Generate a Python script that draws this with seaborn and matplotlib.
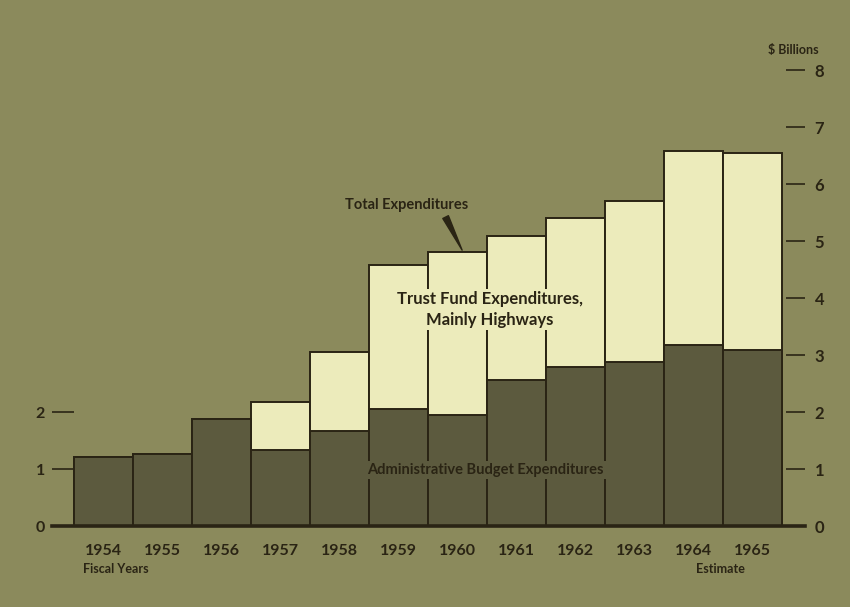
import pandas as pd
import seaborn as sns
import matplotlib.pyplot as plt

# Data ($ billions)
years = ['1954', '1955', '1956', '1957', '1958', '1959',
         '1960', '1961', '1962', '1963', '1964', '1965']
admin = [1.21, 1.26, 1.88, 1.33, 1.67, 2.06, 1.95, 2.57, 2.79, 2.88, 3.18, 3.08]
total = [1.21, 1.26, 1.88, 2.18, 3.06, 4.58, 4.81, 5.09, 5.41, 5.71, 6.58, 6.55]
right_ticks = [0, 1, 2, 3, 4, 5, 6, 7, 8]
left_ticks = [0, 1, 2]

df = pd.DataFrame({'year': years, 'admin': admin, 'total': total})

bg = '#8b8a5c'
dark = '#5c5a3e'
pale = '#ecebbb'
ink = '#2a2414'

plt.rcParams['font.family'] = ['Lato', 'DejaVu Sans']
plt.rcParams['font.weight'] = 'bold'

fig = plt.figure(figsize=(8.5, 6.07), dpi=100, facecolor=bg)
ax = fig.add_axes([0.061, 0.1334, 0.886, 0.770])
ax.set_facecolor(bg)

# Total bars (pale), then administrative part (dark) on top
sns.barplot(data=df, x='year', y='total', color=pale, width=1.0,
            edgecolor=ink, linewidth=1.4, saturation=1, ax=ax)
sns.barplot(data=df, x='year', y='admin', color=dark, width=1.0,
            edgecolor=ink, linewidth=1.4, saturation=1, ax=ax)

ax.set_xlim(-0.873, 11.89)
ax.set_ylim(0, 8.2)
ax.set_xlabel('')
ax.set_ylabel('')

for s in ['top', 'right', 'left']:
    ax.spines[s].set_visible(False)
ax.spines['bottom'].set_linewidth(2.6)
ax.spines['bottom'].set_color(ink)

ax.tick_params(axis='x', length=0, pad=13, labelsize=11.5, colors=ink)
ax.set_yticks(left_ticks)
ax.tick_params(axis='y', direction='in', length=16, width=1.2, pad=5,
               labelsize=11.5, colors=ink)

# Right-hand scale
ax2 = ax.twinx()
ax2.set_ylim(0, 8.2)
ax2.set_yticks(right_ticks)
for s in ['top', 'right', 'left', 'bottom']:
    ax2.spines[s].set_visible(False)
ax2.tick_params(axis='y', direction='in', length=14, width=1.2, pad=7,
                labelsize=12, colors=ink)

# Labels
ax.text(11.69, 8.35, '$ Billions', ha='center', va='center', fontsize=9, color=ink)
ax.text(0.21, -0.76, 'Fiscal Years', ha='center', va='center', fontsize=9, color=ink)
ax.text(10.45, -0.76, 'Estimate', ha='center', va='center', fontsize=9, color=ink)
ax.text(6.55, 3.80, 'Trust Fund Expenditures,\nMainly Highways', ha='center',
        va='center', fontsize=12, color=ink, linespacing=1.35, zorder=5,
        bbox=dict(boxstyle='square,pad=0.15', fc=pale, ec='none'))
ax.text(6.47, 0.98, 'Administrative Budget Expenditures', ha='center',
        va='center', fontsize=10.5, color=ink, zorder=5,
        bbox=dict(boxstyle='square,pad=0.15', fc=dark, ec='none'))
ax.text(5.14, 5.63, 'Total Expenditures', ha='center', va='center',
        fontsize=10.5, color=ink)
ax.annotate('', xy=(6.08, 4.84), xytext=(5.80, 5.42),
            arrowprops=dict(arrowstyle='wedge,tail_width=0.45', color=ink,
                            shrinkA=0, shrinkB=0))

fig.savefig('out.png', dpi=100, facecolor=bg)
